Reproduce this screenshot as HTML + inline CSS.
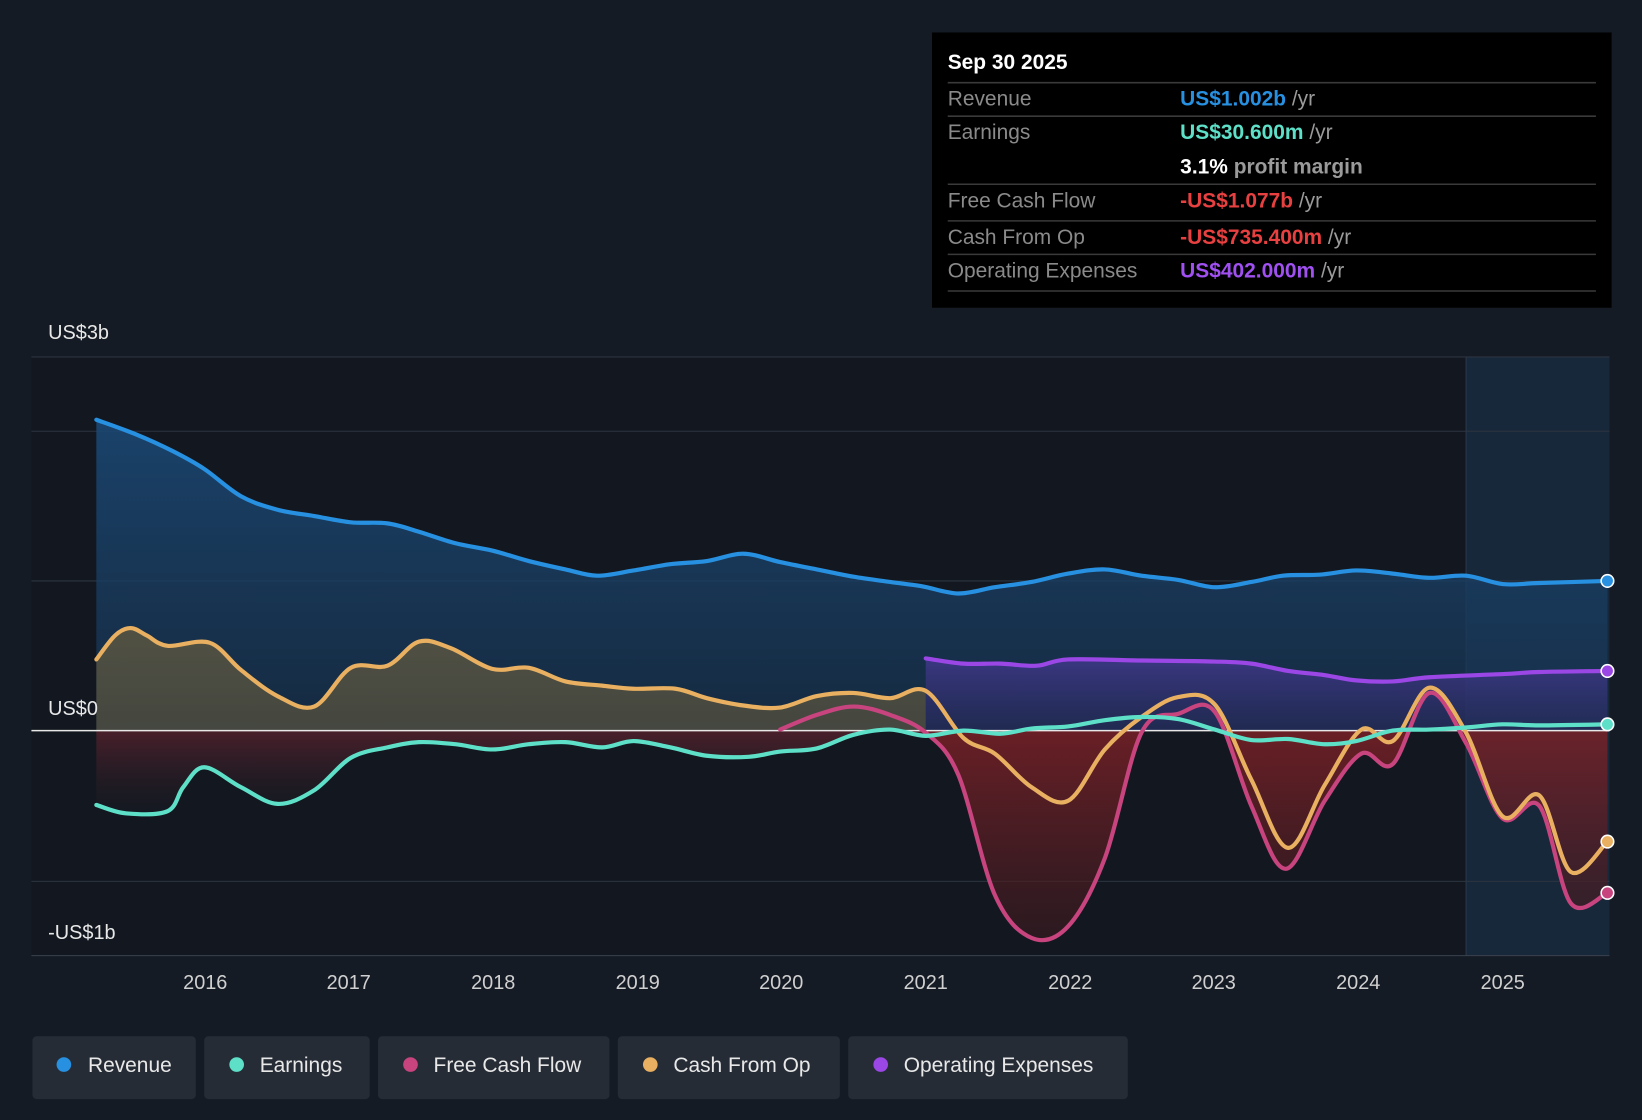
<!DOCTYPE html>
<html><head><meta charset="utf-8"><style>
html,body{margin:0;padding:0;background:#151b24;}
svg{display:block}
text{font-family:"Liberation Sans",sans-serif}
</style></head><body>
<svg id="s" width="1642" height="1120" viewBox="0 0 1568 1070" preserveAspectRatio="none" xmlns="http://www.w3.org/2000/svg">
<defs>
<linearGradient id="gRev" x1="0" y1="0" x2="0" y2="1"><stop offset="0" stop-color="#1b4a78" stop-opacity="0.85"/><stop offset="1" stop-color="#17324f" stop-opacity="0.7"/></linearGradient>
<linearGradient id="gCfo" x1="0" y1="0" x2="0" y2="1"><stop offset="0" stop-color="#6a5e3e" stop-opacity="0.7"/><stop offset="1" stop-color="#4a4a40" stop-opacity="0.6"/></linearGradient>
<linearGradient id="gNeg" x1="0" y1="0" x2="0" y2="1"><stop offset="0" stop-color="#6a2430" stop-opacity="0.8"/><stop offset="1" stop-color="#151a22" stop-opacity="0.3"/></linearGradient>
<linearGradient id="gFcf" x1="0" y1="0" x2="0" y2="1"><stop offset="0" stop-color="#8a2228" stop-opacity="0.85"/><stop offset="1" stop-color="#3a1a20" stop-opacity="0.6"/></linearGradient>
<linearGradient id="gOp" x1="0" y1="0" x2="0" y2="1"><stop offset="0" stop-color="#4a3a9a" stop-opacity="0.7"/><stop offset="1" stop-color="#2a2a60" stop-opacity="0.5"/></linearGradient>
</defs>
<rect width="1568" height="1070" fill="#151b24"/>
<rect x="30" y="341" width="1507" height="572" fill="#131820"/>
<rect x="1400" y="341" width="137" height="572" fill="#1a2d42" opacity="0.8"/>
<line x1="1400" y1="341" x2="1400" y2="913" stroke="#2a3a4a"/>
<g stroke="#2c3440" stroke-width="1">
<line x1="30" y1="341" x2="1537" y2="341"/><line x1="30" y1="412" x2="1537" y2="412"/>
<line x1="30" y1="555" x2="1537" y2="555"/><line x1="30" y1="842" x2="1537" y2="842"/>
<line x1="30" y1="913" x2="1537" y2="913" stroke="#3a424e"/>
</g>
<g id="areas"></g>
<line x1="30" y1="698" x2="1537" y2="698" stroke="#e8e8e8" stroke-width="1.5"/>
<g id="lines" fill="none" stroke-width="4" stroke-linejoin="round" stroke-linecap="round"></g>
<g stroke="#fff" stroke-width="1.5">
<circle cx="1535" cy="555" r="6" fill="#2790e0"/><circle cx="1535" cy="641" r="6" fill="#9b47e6"/>
<circle cx="1535" cy="692" r="6" fill="#5ee0c8"/><circle cx="1535" cy="804" r="6" fill="#e8b060"/>
<circle cx="1535" cy="853" r="6" fill="#c8447f"/>
</g>
<g fill="#e8e8e8" font-size="19">
<text x="46" y="324">US$3b</text><text x="46" y="683">US$0</text><text x="46" y="897">-US$1b</text>
</g>
<g fill="#d0d0d0" font-size="19" text-anchor="middle">
<text x="196" y="945">2016</text><text x="333" y="945">2017</text><text x="471" y="945">2018</text><text x="609" y="945">2019</text><text x="746" y="945">2020</text><text x="884" y="945">2021</text><text x="1022" y="945">2022</text><text x="1159" y="945">2023</text><text x="1297" y="945">2024</text><text x="1435" y="945">2025</text>
</g>
<rect x="890" y="31" width="649" height="263" fill="#000"/>
<text x="905" y="66" fill="#fff" font-size="20" font-weight="bold">Sep 30 2025</text>
<g stroke="#3a3a3a" stroke-width="1.5">
<line x1="905" y1="79" x2="1524" y2="79"/><line x1="905" y1="111" x2="1524" y2="111"/>
<line x1="905" y1="176" x2="1524" y2="176"/><line x1="905" y1="211" x2="1524" y2="211"/>
<line x1="905" y1="243" x2="1524" y2="243"/><line x1="905" y1="278" x2="1524" y2="278"/>
</g>
<g font-size="20" fill="#8a8a8a">
<text x="905" y="101">Revenue</text><text x="905" y="133">Earnings</text><text x="905" y="198">Free Cash Flow</text><text x="905" y="233">Cash From Op</text><text x="905" y="265">Operating Expenses</text>
</g>
<g font-size="20" font-weight="bold">
<text x="1127" y="101"><tspan fill="#2790e0">US$1.002b</tspan><tspan fill="#9a9a9a" font-weight="normal"> /yr</tspan></text>
<text x="1127" y="133"><tspan fill="#5ee0c8">US$30.600m</tspan><tspan fill="#9a9a9a" font-weight="normal"> /yr</tspan></text>
<text x="1127" y="166"><tspan fill="#fff">3.1%</tspan><tspan fill="#9a9a9a"> profit margin</tspan></text>
<text x="1127" y="198"><tspan fill="#e84040">-US$1.077b</tspan><tspan fill="#9a9a9a" font-weight="normal"> /yr</tspan></text>
<text x="1127" y="233"><tspan fill="#e84040">-US$735.400m</tspan><tspan fill="#9a9a9a" font-weight="normal"> /yr</tspan></text>
<text x="1127" y="265"><tspan fill="#a050f0">US$402.000m</tspan><tspan fill="#9a9a9a" font-weight="normal"> /yr</tspan></text>
</g>
<g font-size="20" fill="#e8e8e8">
<rect x="31" y="990" width="156" height="60" rx="4" fill="#262c36"/><circle cx="61" cy="1017" r="7" fill="#2790e0"/><text x="84" y="1024">Revenue</text>
<rect x="195" y="990" width="158" height="60" rx="4" fill="#262c36"/><circle cx="226" cy="1017" r="7" fill="#5ee0c8"/><text x="248" y="1024">Earnings</text>
<rect x="361" y="990" width="221" height="60" rx="4" fill="#262c36"/><circle cx="392" cy="1017" r="7" fill="#c8447f"/><text x="414" y="1024">Free Cash Flow</text>
<rect x="590" y="990" width="212" height="60" rx="4" fill="#262c36"/><circle cx="621" cy="1017" r="7" fill="#e8b060"/><text x="643" y="1024">Cash From Op</text>
<rect x="810" y="990" width="267" height="60" rx="4" fill="#262c36"/><circle cx="841" cy="1017" r="7" fill="#9b47e6"/><text x="863" y="1024">Operating Expenses</text>
</g>
</svg>
<script>
(function(){
function P(s){return s.trim().split(/\s+/).map(function(p){return p.split(',').map(Number);});}
function smooth(pts){var d='';for(var i=0;i<pts.length-1;i++){var p0=pts[i-1]||pts[i],p1=pts[i],p2=pts[i+1],p3=pts[i+2]||p2;
var c1x=p1[0]+(p2[0]-p0[0])/6,c1y=p1[1]+(p2[1]-p0[1])/6,c2x=p2[0]-(p3[0]-p1[0])/6,c2y=p2[1]-(p3[1]-p1[1])/6;
d+=' C'+c1x.toFixed(1)+','+c1y.toFixed(1)+' '+c2x.toFixed(1)+','+c2y.toFixed(1)+' '+p2[0]+','+p2[1];}return d;}
var ns='http://www.w3.org/2000/svg';
function add(g,attrs){var e=document.createElementNS(ns,'path');for(var k in attrs)e.setAttribute(k,attrs[k]);document.getElementById(g).appendChild(e);}
var rev=P("92,401 130,415 165,431 195,448 230,474 265,487 300,493 335,499 370,500 400,508 435,519 470,526 505,536 540,544 570,550 605,545 640,539 675,536 710,529 745,537 780,544 815,551 850,556 880,560 915,567 950,561 985,556 1020,548 1055,544 1090,550 1125,554 1160,561 1195,556 1225,550 1260,549 1295,545 1330,548 1365,552 1400,550 1435,558 1470,557 1535,555");
var ear=P("92,769 120,777 160,775 175,752 195,733 230,752 265,768 300,755 335,724 370,714 400,709 435,711 470,716 505,711 540,709 575,714 605,708 640,714 675,722 715,723 745,718 780,715 815,702 850,697 884,703 920,698 955,701 985,696 1020,694 1055,688 1090,685 1125,687 1160,697 1195,707 1230,706 1265,711 1295,708 1330,698 1365,697 1400,695 1435,692 1470,693 1535,692");
var cfo=P("92,630 110,607 125,600 140,607 160,617 200,614 230,640 265,665 300,675 335,638 370,636 400,613 430,619 470,639 505,638 540,651 575,655 605,658 645,658 675,667 710,674 745,676 780,665 815,662 850,667 884,660 920,705 950,720 985,752 1020,765 1055,716 1090,685 1125,666 1160,673 1195,745 1230,810 1265,750 1300,697 1330,708 1365,657 1400,700 1435,780 1470,760 1500,833 1535,804");
var fcf=P("745,697 780,683 815,675 850,683 884,700 915,740 950,855 985,896 1020,885 1055,820 1090,700 1125,682 1160,680 1195,770 1228,830 1265,765 1300,720 1330,730 1365,662 1400,710 1435,782 1470,770 1500,863 1535,853");
var opx=P("884,629 920,634 955,634 990,636 1020,630 1090,631 1160,632 1195,634 1230,641 1265,645 1295,650 1330,651 1365,647 1435,644 1470,642 1535,641");
function area(pts,fill,clip){var d='M'+pts[0][0]+',698 L'+pts[0][0]+','+pts[0][1]+smooth(pts)+' L'+pts[pts.length-1][0]+',698 Z';var a={d:d,fill:fill};if(clip)a['clip-path']=clip;add('areas',a);}
// clips
var defs=document.querySelector('defs');
defs.insertAdjacentHTML('beforeend','<clipPath id="cLeft"><rect x="0" y="0" width="884" height="1070"/></clipPath><clipPath id="cRight"><rect x="884" y="0" width="700" height="1070"/></clipPath><clipPath id="cBelow"><rect x="0" y="698" width="1600" height="400"/></clipPath>');
area(rev,'url(#gRev)');
area(ear,'url(#gNeg)','url(#cLeft)');
area(opx,'url(#gOp)');
area(cfo,'url(#gCfo)','url(#cLeft)');
var g=document.getElementById('areas');
var e=document.createElementNS(ns,'g');e.setAttribute('clip-path','url(#cRight)');g.appendChild(e);
var p=document.createElementNS(ns,'path');p.setAttribute('d','M'+fcf[0][0]+',698 L'+fcf[0][0]+','+fcf[0][1]+smooth(fcf)+' L1535,698 Z');p.setAttribute('fill','url(#gFcf)');p.setAttribute('clip-path','url(#cBelow)');e.appendChild(p);
function line(pts,c){add('lines',{d:'M'+pts[0][0]+','+pts[0][1]+smooth(pts),stroke:c});}
line(opx,'#9b47e6');line(fcf,'#c8447f');line(cfo,'#e8b060');line(ear,'#5ee0c8');line(rev,'#2790e0');
})();
</script>
</body></html>
